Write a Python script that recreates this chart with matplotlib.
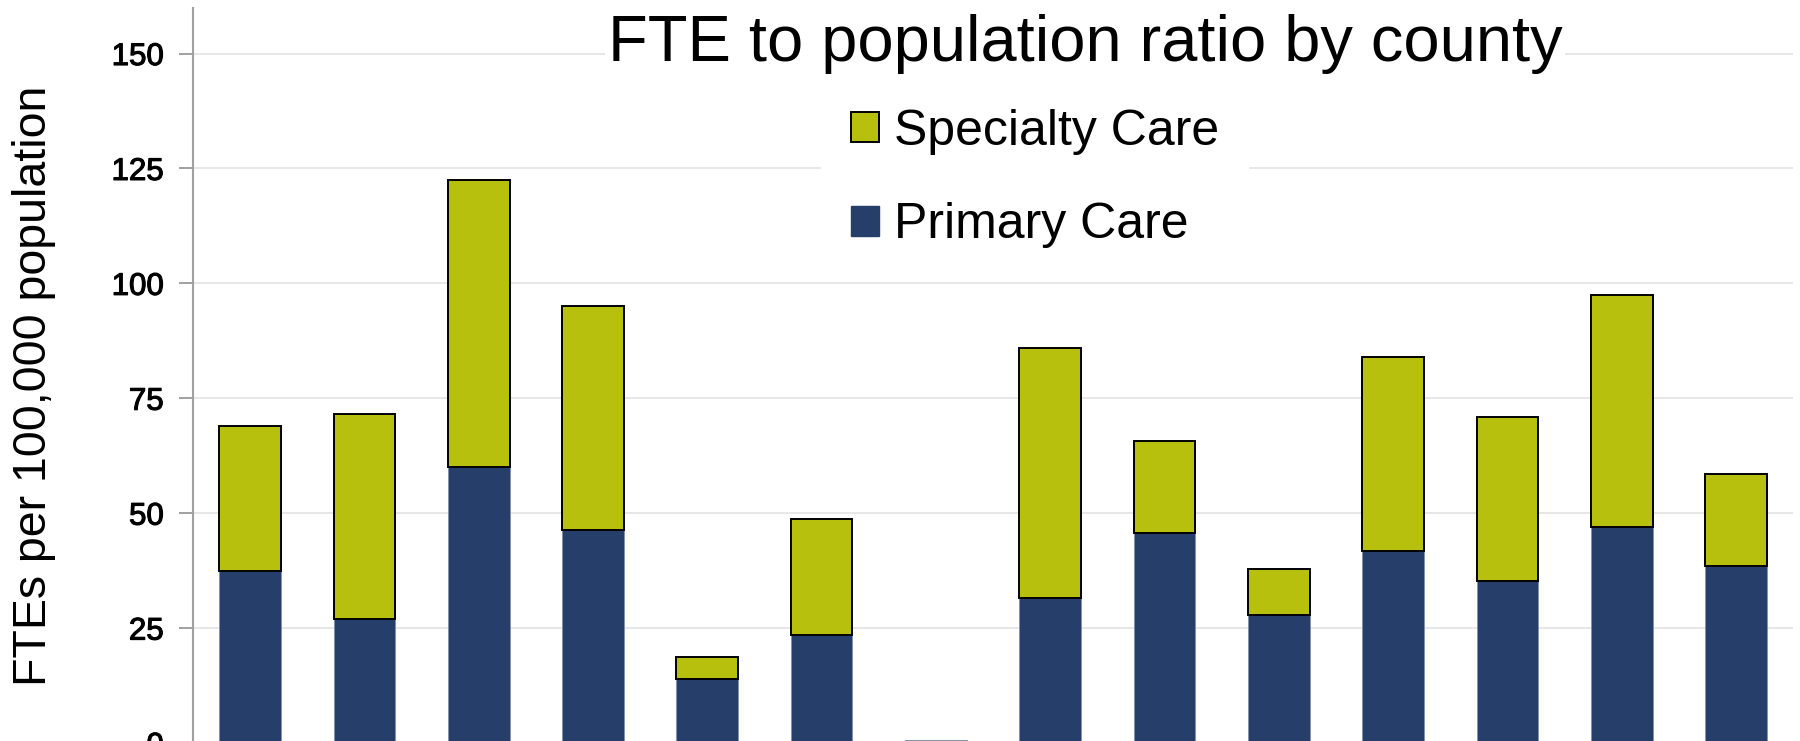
import matplotlib
matplotlib.use('Agg')
import matplotlib.pyplot as plt
import matplotlib.patheffects as pe
import numpy as np
from matplotlib.patches import Patch

# Values (FTEs per 100,000 population)
counties = list(range(14))
primary = [37.5, 27, 60, 46.25, 14, 23.5, 0.6, 31.5, 45.75, 27.75, 41.75, 35.25, 47, 38.5]
total = [69, 71.5, 122.5, 95, 18.75, 48.75, 0.6, 86, 65.75, 37.75, 84, 71, 97.5, 58.5]
specialty = [t - p for t, p in zip(total, primary)]
yticks = [0, 25, 50, 75, 100, 125, 150]

primary_color = '#263f6a'
specialty_color = '#b6c00d'

fig = plt.figure(figsize=(18, 7.41), dpi=100)
# axes extends slightly below the figure: the reference image is cropped at y=0
ax = fig.add_axes([0.1072, -0.0027, 0.889, 0.9925])

x = np.arange(len(counties))
ax.bar(x, primary, width=0.54, color=primary_color, edgecolor='#8090b0', linewidth=0.6, zorder=3)
spec_edges = ['black' if s > 0 else 'none' for s in specialty]
ax.bar(x, specialty, bottom=primary, width=0.54, color=specialty_color, edgecolor=spec_edges,
       linewidth=1.4, zorder=3)

ax.set_xlim(-0.5, 13.5)
ax.set_ylim(0, 160)
ax.set_yticks(yticks)
ax.set_xticks([])
ax.tick_params(axis='y', labelsize=22.5, length=10, width=1.2, color='#909090', pad=11)
for lbl in ax.get_yticklabels():
    lbl.set_family('Liberation Sans')
    lbl.set_path_effects([pe.withStroke(linewidth=0.8, foreground='black')])
ax.grid(axis='y', color='#e3e3e3', linewidth=1.2, zorder=0)
for side in ['top', 'right', 'bottom']:
    ax.spines[side].set_visible(False)
ax.spines['left'].set_color('#a0a0a0')
ax.spines['left'].set_linewidth(1.5)

fig.text(0.019, 0.479, 'FTEs per 100,000 population', rotation=90, ha='center', va='center',
         fontsize=33.5, family='Liberation Sans')

fig.text(0.603, 0.94, 'FTE to population ratio by county', ha='center', va='center',
         fontsize=46.8, family='Liberation Sans',
         bbox=dict(facecolor='white', edgecolor='none', pad=2))

handles = [Patch(facecolor=specialty_color, edgecolor='black', linewidth=1.4),
           Patch(facecolor=primary_color, edgecolor=primary_color)]
leg = ax.legend(handles, ['Specialty Care', 'Primary Care'], loc='center',
                bbox_to_anchor=(0.575, 0.759), bbox_transform=fig.transFigure,
                prop={'family': 'Liberation Sans', 'size': 36}, frameon=True,
                fancybox=False, edgecolor='none', facecolor='white', framealpha=1,
                handlelength=0.55, handleheight=0.55, handletextpad=0.3,
                labelspacing=0.95, borderpad=0.6, borderaxespad=0)

fig.savefig('out.png', dpi=100)
